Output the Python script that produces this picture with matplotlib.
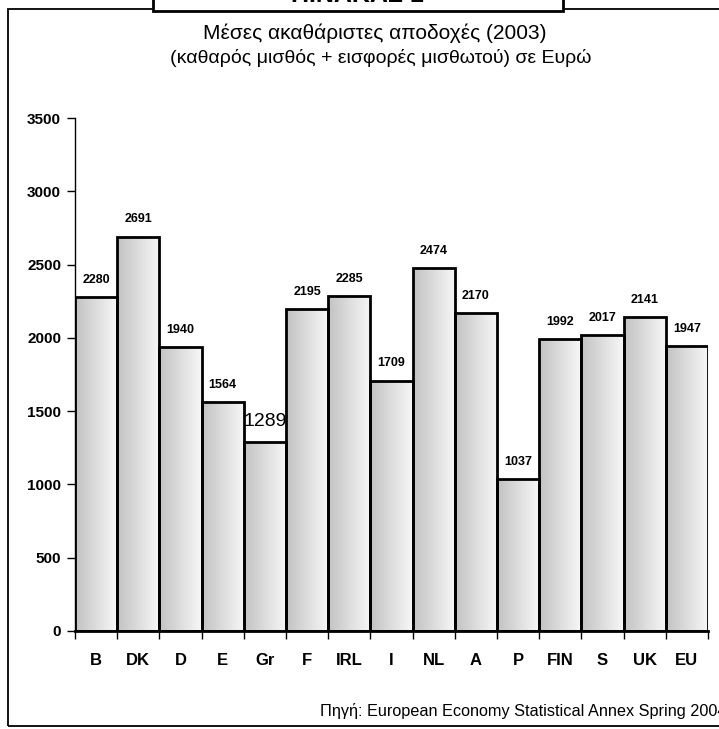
import numpy as np
import matplotlib.pyplot as plt
import matplotlib.colors as mcolors
from matplotlib.patches import Rectangle

countries = ["B", "DK", "D", "E", "Gr", "F", "IRL", "I", "NL", "A", "P", "FIN", "S", "UK", "EU"]
wages = [2280, 2691, 1940, 1564, 1289, 2195, 2285, 1709, 2474, 2170, 1037, 1992, 2017, 2141, 1947]
y_ticks = [0, 500, 1000, 1500, 2000, 2500, 3000, 3500]

title_1 = "Μέσες ακαθάριστες αποδοχές (2003)"
title_2 = "(καθαρός μισθός + εισφορές μισθωτού) σε Ευρώ"
source = "Πηγή: European Economy Statistical Annex Spring 2004"
box_title = "ΠΙΝΑΚΑΣ 1"

plt.rcParams['font.family'] = ['Liberation Sans', 'DejaVu Sans']

fig = plt.figure(figsize=(7.19, 7.29), dpi=100)
W, H = 719, 729

# outer frame + title box on top (box text is cut off by the top edge, as in the scan)
fig.patches.append(Rectangle((8 / W, 3 / H), 1.0, (726 - 9) / H, transform=fig.transFigure,
                             fill=False, edgecolor='black', linewidth=1.3, clip_on=False))
fig.patches.append(Rectangle((153 / W, (H - 11) / H), (563 - 153) / W, 0.05, transform=fig.transFigure,
                             facecolor='white', edgecolor='black', linewidth=2, clip_on=False))
fig.text(357 / W, (H - 2) / H, box_title, ha='center', va='baseline', fontsize=18, fontweight='bold')

fig.text(375 / W, (H - 33) / H, title_1, ha='center', va='center', fontsize=15)
fig.text(381 / W, (H - 58) / H, title_2, ha='center', va='center', fontsize=14)
fig.text(320 / W, (H - 711) / H, source, ha='left', va='center', fontsize=11.7)

ax = fig.add_axes([75 / W, 98 / H, 633 / W, 513 / H])

x = np.arange(len(countries))
bars = ax.bar(x, wages, width=1.0, color='none', edgecolor='black', linewidth=2, zorder=3)

# grey-to-white gradient inside each bar
grad_cmap = mcolors.LinearSegmentedColormap.from_list('bar_grad', ['#c2c2c2', '#f8f8f8'])
gradient = np.linspace(0, 1, 256).reshape(1, -1)
for b in bars:
    im = ax.imshow(gradient, cmap=grad_cmap, aspect='auto', zorder=2,
                   extent=[b.get_x(), b.get_x() + b.get_width(), 0, b.get_height()])
    im.set_clip_path(b)

for i, v in enumerate(wages):
    if countries[i] == "Gr":
        ax.annotate(str(v), (x[i], v), xytext=(0, 9), textcoords='offset points',
                    ha='center', va='bottom', fontsize=14)
    else:
        ax.annotate(str(v), (x[i], v), xytext=(0, 8), textcoords='offset points',
                    ha='center', va='bottom', fontsize=9, fontweight='bold')

ax.set_xlim(-0.5, len(countries) - 0.5)
ax.set_ylim(0, 3500)
ax.spines['top'].set_visible(False)
ax.spines['right'].set_visible(False)
ax.spines['left'].set_linewidth(1)
ax.spines['bottom'].set_linewidth(2)
ax.spines['bottom'].set_zorder(4)

ax.set_yticks(y_ticks)
ax.set_yticklabels([str(t) for t in y_ticks], fontsize=11, fontweight='bold')
ax.tick_params(axis='y', direction='out', length=6, width=1, pad=4)

ax.set_xticks(np.arange(-0.5, len(countries), 1.0))
ax.set_xticklabels([])
ax.tick_params(axis='x', which='major', direction='out', length=6, width=1)
ax.set_xticks(x, countries, minor=True)
ax.tick_params(axis='x', which='minor', length=0, pad=16)
for lbl in ax.get_xticklabels(minor=True):
    lbl.set_fontweight('bold')
    lbl.set_fontsize(12)

fig.savefig("out.png", dpi=100)
